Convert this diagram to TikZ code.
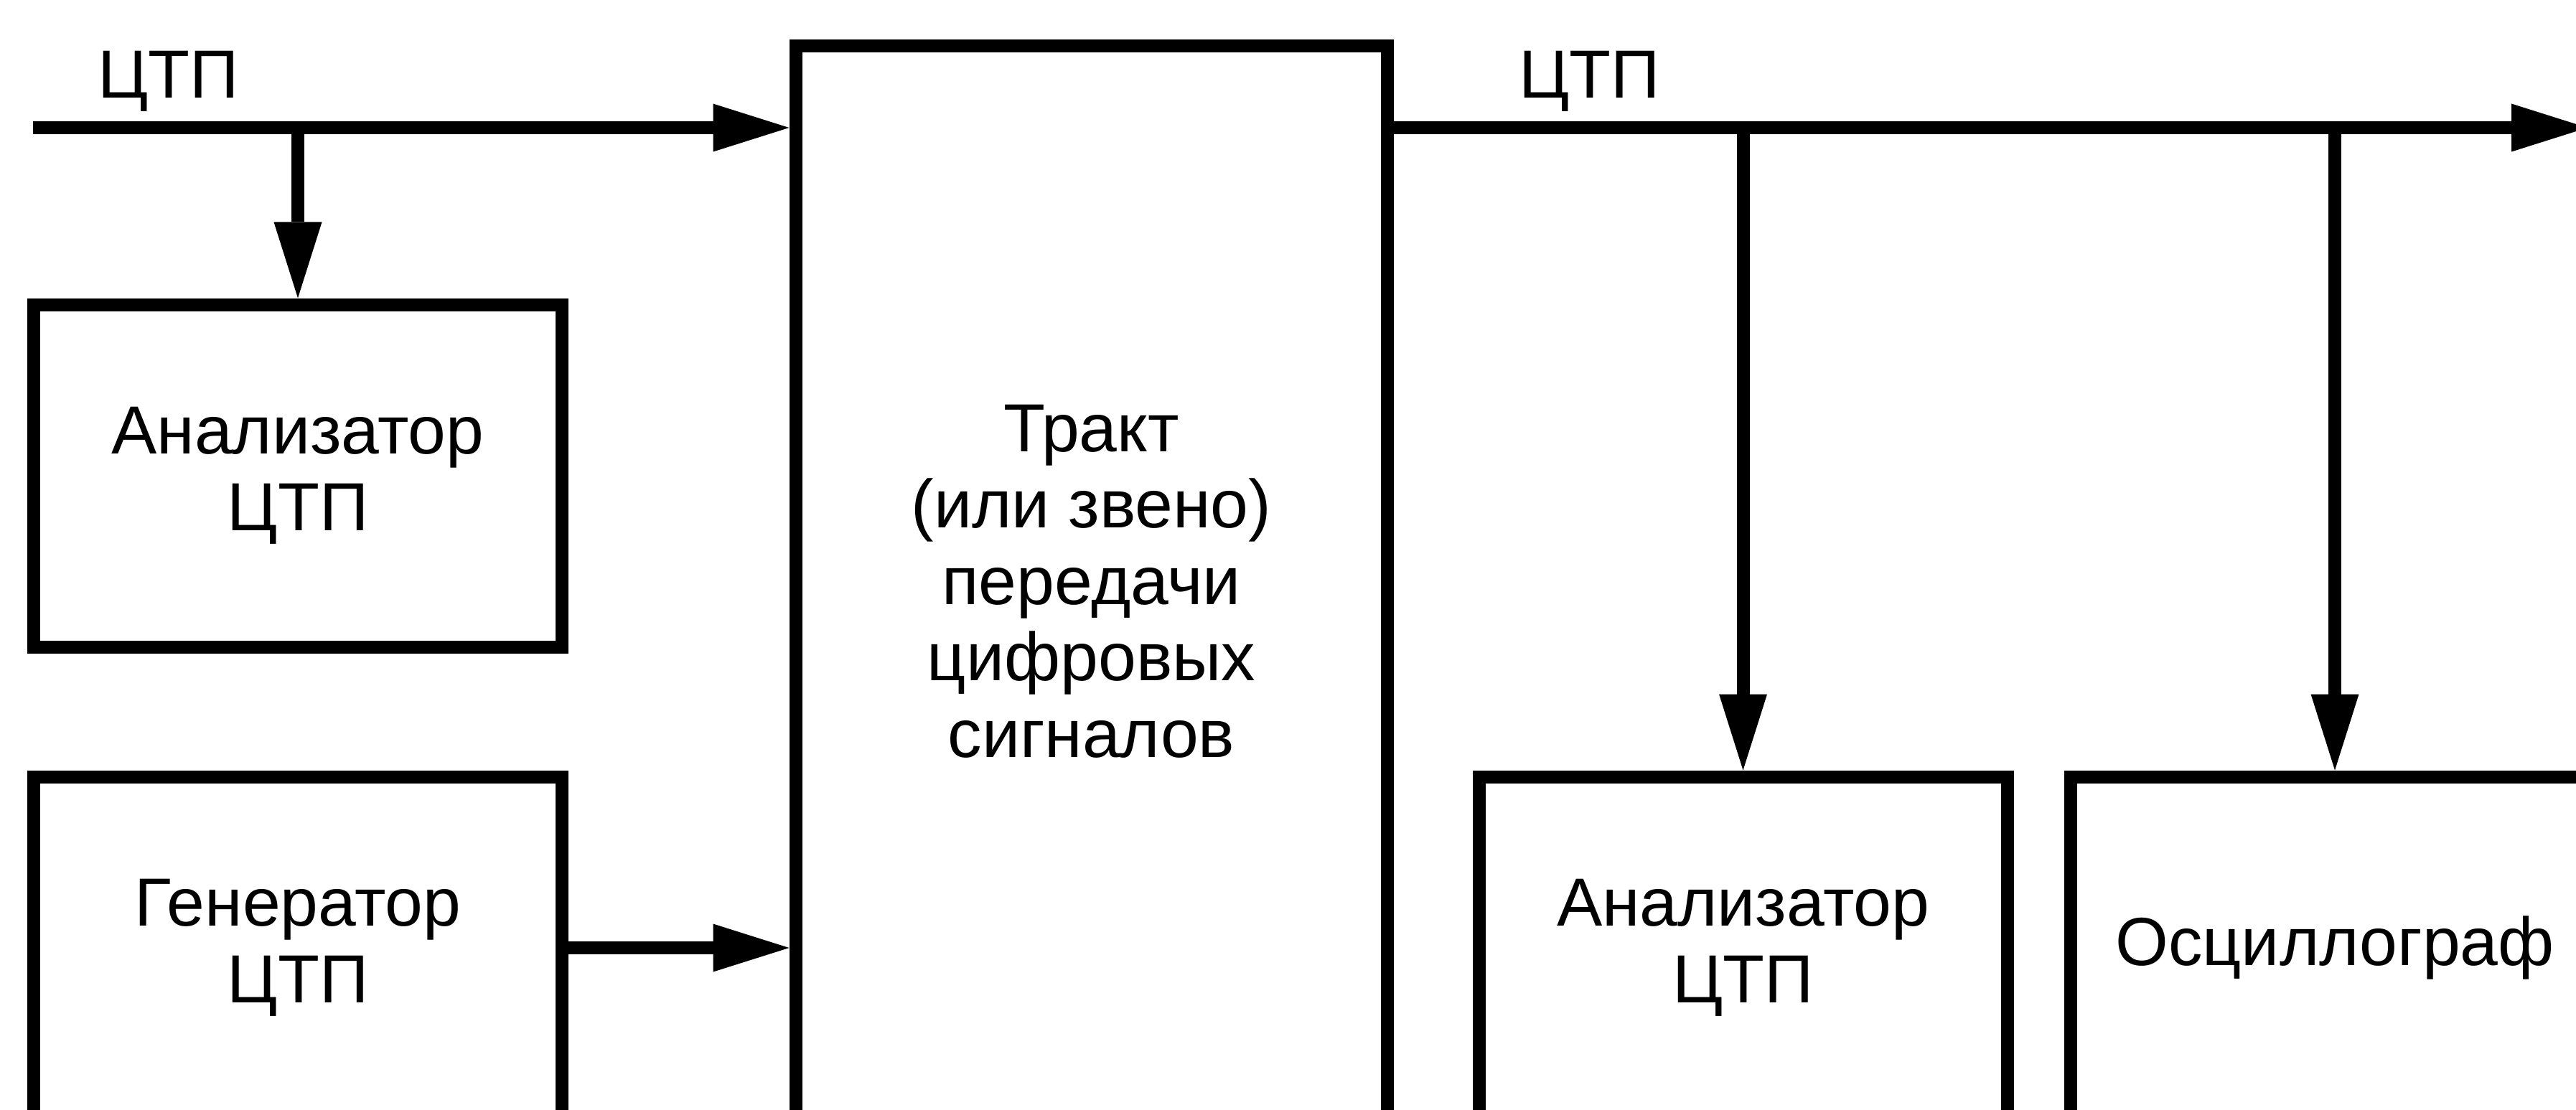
\documentclass[tikz,border=0pt]{standalone}
\usepackage{fontspec}
\setmainfont{Liberation Sans}
\usetikzlibrary{arrows.meta}

\begin{document}
\begin{tikzpicture}[line width=0.18cm,
  >={Triangle[length=1.06cm,width=0.67cm,line width=0pt]},
  blk/.style={draw, inner sep=0pt, minimum width=7.36cm, minimum height=4.77cm, align=center, font=\fontsize{27}{30.3}\selectfont},
  lbl/.style={inner sep=0pt, font=\fontsize{27}{30.3}\selectfont}]
\useasboundingbox (0,0) rectangle (35.89,15.46);
\clip (0,0) rectangle (35.89,15.46);
\node[blk, minimum width=8.24cm, minimum height=14.92cm] (trakt) at (15.205,7.36) {Тракт\\(или звено)\\передачи\\цифровых\\сигналов};
\node[blk] (anain) at (4.15,8.83) {Анализатор\\ЦТП};
\node[blk] (gen) at (4.15,2.25) {Генератор\\ЦТП};
\node[blk] (anaout) at (24.285,2.25) {Анализатор\\ЦТП};
\node[blk] (osc) at (32.53,2.25) {Осциллограф};
\coordinate (in) at (0.46,13.68);
\coordinate (out) at (36.05,13.68);
\draw[->] (in) -- (in -| trakt.west);
\draw[->] (trakt.east |- in) -- (out);
%\draw[->] (gen.east) -- (trakt.west);
\draw[->] (gen.east) -- (gen.east -| trakt.west);
\draw[->] (anain.north |- in) -- (anain.north);
\draw[->] (anaout.north |- in) -- (anaout.north);
\draw[->] (osc.north |- in) -- (osc.north);
\node[lbl, anchor=base west] (ctpin) at (1.27,14.09) {ЦТП};
\node[lbl, anchor=base west] (ctpout) at (21.07,14.09) {ЦТП};
\end{tikzpicture}
\end{document}
